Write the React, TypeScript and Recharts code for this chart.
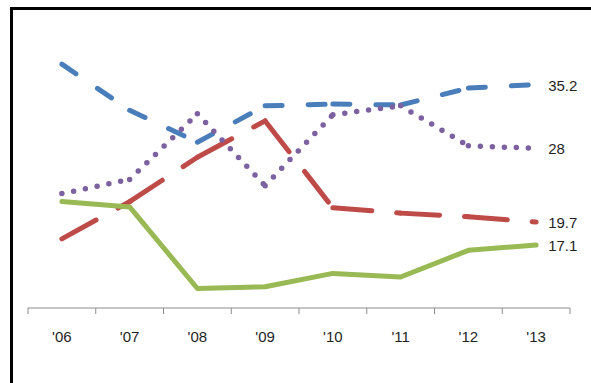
import React from 'react';
import { LineChart, Line, XAxis, YAxis, LabelList } from 'recharts';

// Years along the category axis
const years = ["'06", "'07", "'08", "'09", "'10", "'11", "'12", "'13"];

// Series values per year
const blueSeries = [37.5, 32.3, 28.7, 32.8, 33.0, 32.9, 34.8, 35.2];
const redSeries = [17.8, 22.0, 27.0, 31.1, 21.3, 20.7, 20.3, 19.7];
const greenSeries = [22.0, 21.4, 12.2, 12.4, 13.9, 13.5, 16.5, 17.1];
const purpleSeries = [22.9, 24.5, 31.9, 23.8, 31.8, 32.8, 28.3, 28.0];

// Tick marks sit between categories; labels sit on them
const boundaryTicks = [-0.5, 0.5, 1.5, 2.5, 3.5, 4.5, 5.5, 6.5, 7.5];
const labelTicks = [0, 1, 2, 3, 4, 5, 6, 7];
const valueDomain: [number, number] = [10, 40];

const W = 591;
const H = 383;
const AXIS_GREY = '#8C8C8C';
const TEXT = '#1F1F1F';
const FONT = '"Liberation Sans", Arial, sans-serif';

type Dashed = { id: string; values: number[]; color: string; dash: string; width: number };

// Dash patterns restart at every data point, so each dashed series is drawn
// as one Line per segment.
const blueDef: Dashed = { id: 'blue', values: blueSeries, color: '#4A7EBB', dash: '17 26', width: 5 };
const redDef: Dashed = { id: 'red', values: redSeries, color: '#BE4B48', dash: '39 25', width: 5 };
const purpleDef: Dashed = { id: 'purple', values: purpleSeries, color: '#7D60A0', dash: '0 12', width: 5.5 };
const dashedDefs = [blueDef, redDef, purpleDef];

const segKeys = years.slice(0, -1).map((_, k) => k);

const rows = years.map((year, i) => {
  const row: Record<string, number | string | null> = { idx: i, year, green: greenSeries[i] };
  for (const s of dashedDefs) {
    for (const k of segKeys) {
      row[`${s.id}_${k}`] = i === k || i === k + 1 ? s.values[i] : null;
    }
  }
  return row;
});

const lastIndex = years.length - 1;

const EndLabel = (props: any) => {
  const { value, index } = props;
  if (index !== lastIndex || value == null) return null;
  const px = props.x ?? props.viewBox?.x;
  const py = props.y ?? props.viewBox?.y;
  return (
    <text x={px + 12} y={py} dy="0.4em" fontSize={15} fill={TEXT} fontFamily={FONT}>
      {String(value)}
    </text>
  );
};

const renderSegments = (s: Dashed) =>
  segKeys.map((k) => (
    <Line
      key={`${s.id}_${k}`}
      xAxisId="bounds"
      type="linear"
      dataKey={`${s.id}_${k}`}
      stroke={s.color}
      strokeWidth={s.width}
      strokeDasharray={s.dash}
      strokeLinecap="round"
      strokeLinejoin="round"
      dot={false}
      activeDot={false}
      connectNulls={false}
      isAnimationActive={false}
    >
      {k === segKeys.length - 1 ? <LabelList dataKey={`${s.id}_${k}`} content={EndLabel} /> : null}
    </Line>
  ));

export default function App() {
  return (
    <div
      style={{
        position: 'fixed',
        left: 0,
        top: 0,
        width: W,
        height: H,
        overflow: 'hidden',
        background: '#fff',
        fontFamily: FONT,
      }}
    >
      <div
        style={{
          position: 'absolute',
          left: 10,
          top: 7,
          width: W - 10,
          height: H - 7,
          boxSizing: 'border-box',
          borderLeft: '3px solid #000',
          borderTop: '3px solid #000',
        }}
      />
      <div style={{ position: 'absolute', left: 0, top: 0 }}>
        <LineChart width={W} height={H} data={rows} margin={{ top: 42, right: 21, bottom: 29, left: 28 }}>
          <XAxis
            xAxisId="bounds"
            type="number"
            dataKey="idx"
            domain={[-0.5, 7.5]}
            ticks={boundaryTicks}
            interval={0}
            allowDataOverflow
            tickFormatter={() => ''}
            height={6}
            tickSize={6}
            axisLine={{ stroke: AXIS_GREY, strokeWidth: 1 }}
            tickLine={{ stroke: AXIS_GREY, strokeWidth: 1 }}
          />
          <XAxis
            xAxisId="labels"
            type="number"
            dataKey="idx"
            domain={[-0.5, 7.5]}
            ticks={labelTicks}
            interval={0}
            allowDataOverflow
            tickFormatter={(v: number) => years[Math.round(v)]}
            axisLine={false}
            tickLine={false}
            tickSize={0}
            tickMargin={17}
            height={40}
            tick={{ fontSize: 15, fill: TEXT, fontFamily: FONT }}
          />
          <YAxis type="number" domain={valueDomain} allowDataOverflow hide />
          {renderSegments(blueDef)}
          {renderSegments(redDef)}
          <Line
            xAxisId="bounds"
            type="linear"
            dataKey="green"
            stroke="#98B954"
            strokeWidth={5}
            strokeLinecap="round"
            strokeLinejoin="round"
            dot={false}
            activeDot={false}
            isAnimationActive={false}
          >
            <LabelList dataKey="green" content={EndLabel} />
          </Line>
          {renderSegments(purpleDef)}
        </LineChart>
      </div>
    </div>
  );
}
